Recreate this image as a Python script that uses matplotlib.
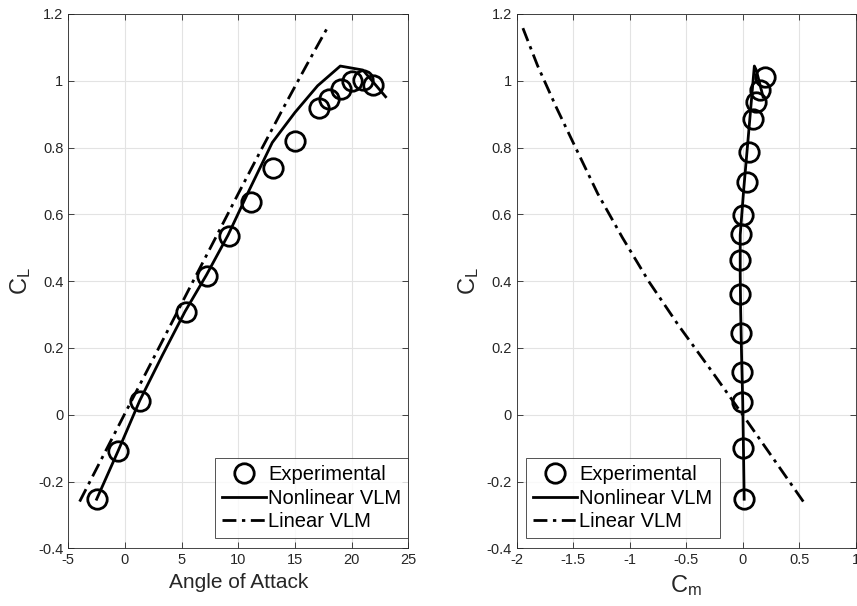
import matplotlib
matplotlib.use("Agg")
import matplotlib.pyplot as plt
import numpy as np

plt.rcParams['font.family'] = ['Liberation Sans', 'DejaVu Sans']
plt.rcParams['axes.unicode_minus'] = False

# ---- Data: CL vs angle of attack ----
exp_alpha = [-2.5, -0.64, 1.32, 5.38, 7.21, 9.2, 11.1, 13.1, 15.0, 17.1, 18.0, 19.06, 20.0, 20.97, 21.9]
exp_cl_a = [-0.253, -0.108, 0.042, 0.307, 0.416, 0.535, 0.636, 0.738, 0.820, 0.919, 0.946, 0.975, 0.999, 1.002, 0.987]

nl_alpha = [-2.5, -0.6, 1.3, 3.3, 5.3, 7.2, 9.1, 11.0, 13.0, 15.0, 17.0, 19.0, 21.0, 23.0]
nl_cl = [-0.253, -0.108, 0.042, 0.178, 0.309, 0.419, 0.538, 0.675, 0.815, 0.905, 0.985, 1.044, 1.032, 0.952]

lin_alpha = [-4, -2, 0, 2, 4, 6, 8, 10, 12, 14, 16, 18]
lin_cl = [-0.26, -0.128, 0.004, 0.135, 0.267, 0.399, 0.530, 0.662, 0.792, 0.920, 1.045, 1.167]

# ---- Data: CL vs Cm ----
exp_cm = [0.014, 0.005, -0.004, -0.009, -0.018, -0.024, -0.024, -0.018, 0.005, 0.035, 0.058, 0.094, 0.118, 0.153, 0.197]
exp_cl_m = [-0.253, -0.100, 0.037, 0.127, 0.246, 0.361, 0.463, 0.540, 0.598, 0.696, 0.788, 0.885, 0.937, 0.972, 1.012]

nl_cm = [0.013, 0.007, 0.0, -0.010, -0.018, -0.022, -0.022, 0.009, 0.045, 0.068, 0.088, 0.103, 0.120, 0.180]

lin_cm = [0.536, 0.264, -0.009, -0.284, -0.567, -0.831, -1.064, -1.283, -1.468, -1.649, -1.815, -1.956]

legend_labels = ['Experimental', 'Nonlinear VLM', 'Linear VLM']

txt = '#262626'
fig = plt.figure(figsize=(8.57, 6.06), dpi=100)
ax1 = fig.add_axes([0.0797, 0.0952, 0.3967, 0.8818])
ax2 = fig.add_axes([0.6029, 0.0952, 0.3956, 0.8818])

dashdot = (0, (5, 2, 1.2, 2))


def style(ax):
    ax.set_ylim(-0.4, 1.2)
    ax.set_yticks(np.arange(-0.4, 1.21, 0.2))
    ax.set_yticklabels(['-0.4', '-0.2', '0', '0.2', '0.4', '0.6', '0.8', '1', '1.2'])
    ax.grid(True, color='#e3e3e3', linewidth=0.8)
    ax.set_axisbelow(True)
    ax.tick_params(direction='in', top=True, right=True, labelsize=10.5,
                   colors=txt, length=4, width=0.6)
    for s in ax.spines.values():
        s.set_color(txt)
        s.set_linewidth(0.6)
    ax.set_ylabel(r'$\mathregular{C_L}$', fontsize=17, color=txt)


# left
ax1.plot(exp_alpha, exp_cl_a, 'o', mfc='none', mec='black', ms=14, mew=2, label=legend_labels[0])
ax1.plot(nl_alpha, nl_cl, '-', color='black', lw=2, label=legend_labels[1])
ax1.plot(lin_alpha, lin_cl, color='black', lw=2, linestyle=dashdot, label=legend_labels[2])
ax1.set_xlim(-5, 25)
ax1.set_xticks(np.arange(-5, 26, 5))
style(ax1)
ax1.set_xlabel('Angle of Attack', fontsize=15, color=txt)

# right
ax2.plot(exp_cm, exp_cl_m, 'o', mfc='none', mec='black', ms=14, mew=2, label=legend_labels[0])
ax2.plot(nl_cm, nl_cl, '-', color='black', lw=2, label=legend_labels[1])
ax2.plot(lin_cm, lin_cl, color='black', lw=2, linestyle=dashdot, label=legend_labels[2])
ax2.set_xlim(-2, 1)
ax2.set_xticks(np.arange(-2, 1.01, 0.5))
ax2.set_xticklabels(['-2', '-1.5', '-1', '-0.5', '0', '0.5', '1'])
style(ax2)
ax2.set_xlabel(r'$\mathregular{C_m}$', fontsize=17, color=txt)

for ax, loc, anchor in ((ax1, 'lower right', (1.0, 0.0187)),
                        (ax2, 'lower left', (0.0275, 0.0187))):
    leg = ax.legend(loc=loc, bbox_to_anchor=anchor, fontsize=14.5, frameon=True,
                    fancybox=False, edgecolor=txt, handlelength=2.2,
                    handletextpad=0.1, borderpad=0.35, labelspacing=0.22,
                    borderaxespad=0.0)
    leg.get_frame().set_linewidth(0.7)

fig.savefig('out.png', dpi=100)
